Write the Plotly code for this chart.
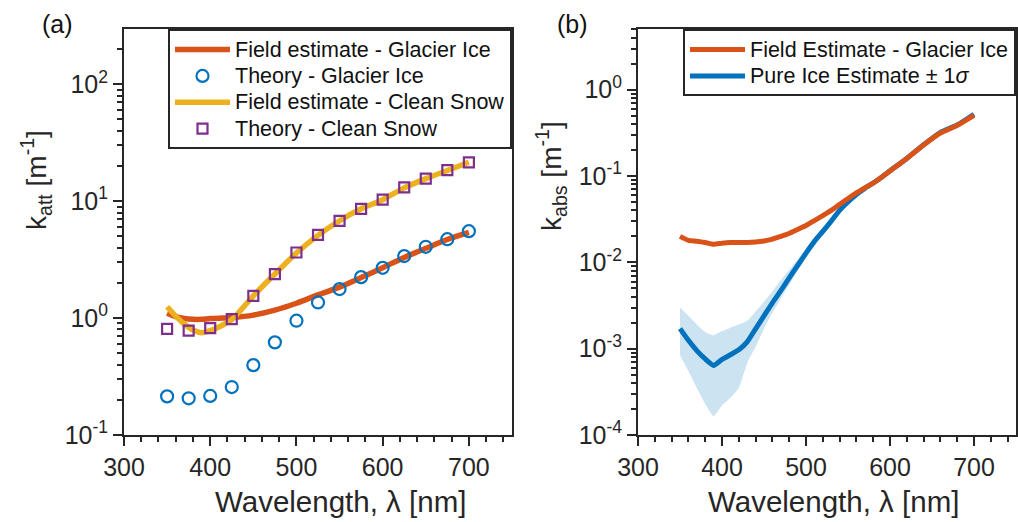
import plotly.graph_objects as go

W, H = 1018, 522

# ---------------- Panel (a) data ----------------
theory_wl = [350, 375, 400, 425, 450, 475, 500, 525, 550, 575, 600, 625, 650, 675, 700]
theory_ice = [0.214, 0.206, 0.216, 0.257, 0.396, 0.62, 0.95, 1.36, 1.77, 2.24, 2.69, 3.39, 4.07, 4.73, 5.54]
theory_snow = [0.81, 0.78, 0.82, 0.98, 1.55, 2.38, 3.64, 5.15, 6.79, 8.6, 10.3, 13.1, 15.6, 18.4, 21.5]

field_ice_wl = [350, 360, 370, 380, 390, 400, 425, 450, 475, 500, 525, 550, 575, 600, 625, 650, 675, 700]
field_ice = [1.10, 1.03, 0.99, 0.975, 0.975, 0.99, 1.01, 1.06, 1.17, 1.34, 1.58, 1.84, 2.22, 2.70, 3.30, 3.95, 4.70, 5.40]

field_snow_wl = [350, 360, 370, 380, 390, 400, 410, 425, 450, 475, 500, 525, 550, 575, 600, 625, 650, 675, 700]
field_snow = [1.25, 1.04, 0.89, 0.79, 0.75, 0.78, 0.84, 0.97, 1.55, 2.38, 3.6, 5.1, 6.8, 8.6, 10.3, 13.0, 15.6, 18.3, 21.5]

# ---------------- Panel (b) data ----------------
b_wl = [350, 360, 370, 380, 390, 400, 410, 420, 430, 440, 450, 460, 470, 480, 490, 500,
        510, 520, 530, 540, 550, 560, 570, 580, 590, 600, 620, 640, 660, 680, 700]
b_field = [0.0200, 0.0180, 0.0176, 0.0170, 0.0162, 0.0167, 0.0170, 0.0170, 0.0170, 0.0172, 0.0177,
           0.0186, 0.0200, 0.0216, 0.0240, 0.0267, 0.0305, 0.0348, 0.040, 0.047, 0.055, 0.0637,
           0.073, 0.083, 0.097, 0.1145, 0.160, 0.229, 0.315, 0.386, 0.505]
b_pure = [0.00171, 0.00125, 0.00095, 0.00076, 0.00064, 0.00075, 0.00085, 0.00097, 0.00120, 0.0017,
          0.0024, 0.0034, 0.0047, 0.0066, 0.0092, 0.0128, 0.0175, 0.0228, 0.030, 0.040, 0.050,
          0.061, 0.072, 0.083, 0.097, 0.115, 0.160, 0.230, 0.320, 0.390, 0.520]
b_upper = [0.0030, 0.0024, 0.0019, 0.00155, 0.00143, 0.00160, 0.00175, 0.0019, 0.0021, 0.0027,
           0.0035, 0.0046, 0.0062, 0.0082, 0.0108, 0.0143, 0.019, 0.0245, 0.0315, 0.0415, 0.0515,
           0.0622, 0.0734, 0.0847, 0.0989, 0.117, 0.163, 0.235, 0.326, 0.398, 0.530]
b_lower = [0.00084, 0.00055, 0.00035, 0.00023, 0.000165, 0.00022, 0.00027, 0.00035, 0.00068, 0.00105,
           0.0017, 0.0026, 0.0038, 0.0055, 0.0080, 0.0114, 0.016, 0.0213, 0.0286, 0.0385, 0.0485,
           0.0598, 0.0706, 0.0814, 0.0951, 0.113, 0.157, 0.225, 0.314, 0.382, 0.510]

ORANGE = "#D95319"
BLUE = "#0072BD"
YELLOW = "#EDB120"
PURPLE = "#7E2F8E"
AX = "#262626"
FONT = "Helvetica, Arial, Liberation Sans, sans-serif"

def big(t):
    return "<span style='font-size:21.5px'>" + t + "</span>"

fig = go.Figure()

# Panel (a)
fig.add_trace(go.Scatter(x=field_ice_wl, y=field_ice, mode="lines", line=dict(color=ORANGE, width=5.5, shape="spline", smoothing=0.8),
                         name=big("Field estimate - Glacier Ice"), xaxis="x", yaxis="y", legend="legend"))
fig.add_trace(go.Scatter(x=theory_wl, y=theory_ice, mode="markers",
                         marker=dict(symbol="circle-open", size=12, color=BLUE, line=dict(width=2.2, color=BLUE)),
                         name=big("Theory - Glacier Ice"), xaxis="x", yaxis="y", legend="legend"))
fig.add_trace(go.Scatter(x=field_snow_wl, y=field_snow, mode="lines", line=dict(color=YELLOW, width=5.5, shape="spline", smoothing=0.8),
                         name=big("Field estimate - Clean Snow"), xaxis="x", yaxis="y", legend="legend"))
fig.add_trace(go.Scatter(x=theory_wl, y=theory_snow, mode="markers",
                         marker=dict(symbol="square-open", size=10, color=PURPLE, line=dict(width=2.2, color=PURPLE)),
                         name=big("Theory - Clean Snow"), xaxis="x", yaxis="y", legend="legend"))

# Panel (b)
fig.add_trace(go.Scatter(x=b_wl, y=b_upper, mode="lines", line=dict(width=0, color="rgba(0,0,0,0)", shape="spline", smoothing=0.5),
                         showlegend=False, xaxis="x2", yaxis="y2", hoverinfo="skip"))
fig.add_trace(go.Scatter(x=b_wl, y=b_lower, mode="lines", line=dict(width=0, color="rgba(0,0,0,0)", shape="spline", smoothing=0.5),
                         fill="tonexty", fillcolor="rgba(0,114,189,0.2)",
                         showlegend=False, xaxis="x2", yaxis="y2", hoverinfo="skip"))
fig.add_trace(go.Scatter(x=b_wl, y=b_pure, mode="lines", line=dict(color=BLUE, width=5, shape="spline", smoothing=0.5),
                         name=big("Pure Ice Estimate ± 1<i>σ</i>"), xaxis="x2", yaxis="y2", legend="legend2"))
fig.add_trace(go.Scatter(x=b_wl, y=b_field, mode="lines", line=dict(color=ORANGE, width=5, shape="spline", smoothing=0.5),
                         name=big("Field Estimate - Glacier Ice"), xaxis="x2", yaxis="y2", legend="legend2"))

ydom = [(H - 435) / H, (H - 29.3) / H]
xdom1 = [124 / W, 512 / W]
xdom2 = [638 / W, 1016 / W]

def xaxis_cfg(domain, anchor):
    return dict(domain=domain, anchor=anchor, range=[300, 750], tickvals=[300, 400, 500, 600, 700],
                automargin=False,
                ticks="outside", ticklen=9, tickwidth=1.5, tickcolor=AX,
                minor=dict(tickmode="linear", tick0=300, dtick=20, ticks="outside", ticklen=5, tickwidth=1.5, tickcolor=AX),
                showline=True, linecolor=AX, linewidth=2, mirror=True, showgrid=False, zeroline=False,
                tickfont=dict(size=25, color=AX, family=FONT))

def yaxis_cfg(domain, anchor, rng, exps):
    vals = [10.0 ** e for e in exps]
    text = ["10<sup>%d</sup>" % e for e in exps]
    minors = [k * 10.0 ** e for e in range(exps[0], exps[-1] + 1) for k in range(2, 10)]
    return dict(domain=domain, anchor=anchor, type="log", range=rng, tickvals=vals, ticktext=text,
                automargin=False,
                ticks="outside", ticklen=9, tickwidth=1.5, tickcolor=AX,
                minor=dict(tickmode="array", tickvals=minors, ticks="outside", ticklen=5, tickwidth=1.5, tickcolor=AX),
                showline=True, linecolor=AX, linewidth=2, mirror=True, showgrid=False, zeroline=False,
                tickfont=dict(size=25, color=AX, family=FONT))

def ann(text, xc, yc, size, angle=0, color=AX):
    return dict(text=text, x=xc / W, y=1 - yc / H, xref="paper", yref="paper", showarrow=False,
                xanchor="center", yanchor="middle", textangle=angle,
                font=dict(size=size, color=color, family=FONT))

fig.update_layout(
    width=W, height=H,
    margin=dict(l=0, r=0, t=0, b=0, autoexpand=False),
    paper_bgcolor="white", plot_bgcolor="white",
    font=dict(family=FONT, color=AX),
    xaxis=xaxis_cfg(xdom1, "y"),
    yaxis=yaxis_cfg(ydom, "x", [-1, 2.47], [-1, 0, 1, 2]),
    xaxis2=xaxis_cfg(xdom2, "y2"),
    yaxis2=yaxis_cfg(ydom, "x2", [-4, 0.7], [-4, -3, -2, -1, 0]),
    legend=dict(x=512 / W, xanchor="right", y=1 - 29.3 / H, yanchor="top", bgcolor="white",
                bordercolor=AX, borderwidth=2, font=dict(size=18.0, color="#111", family=FONT),
                tracegroupgap=0, itemwidth=55, traceorder="normal"),
    legend2=dict(x=1016 / W, xanchor="right", y=1 - 29.3 / H, yanchor="top", bgcolor="white",
                 bordercolor=AX, borderwidth=2, font=dict(size=18.0, color="#111", family=FONT),
                 tracegroupgap=0, itemwidth=55, traceorder="reversed"),
    showlegend=True,
    annotations=[
        ann("(a)", 57, 24, 25, color="#111"),
        ann("(b)", 572, 24, 25, color="#111"),
        ann("k<sub>att</sub> [m<sup>-1</sup>]", 36, 180, 28, angle=-90),
        ann("k<sub>abs</sub> [m<sup>-1</sup>]", 551, 176, 28, angle=-90),
        ann("Wavelength, λ [nm]", 340, 501, 29.5),
        ann("Wavelength, λ [nm]", 833, 501, 29.5),
    ],
)

fig.write_html("out.html")
